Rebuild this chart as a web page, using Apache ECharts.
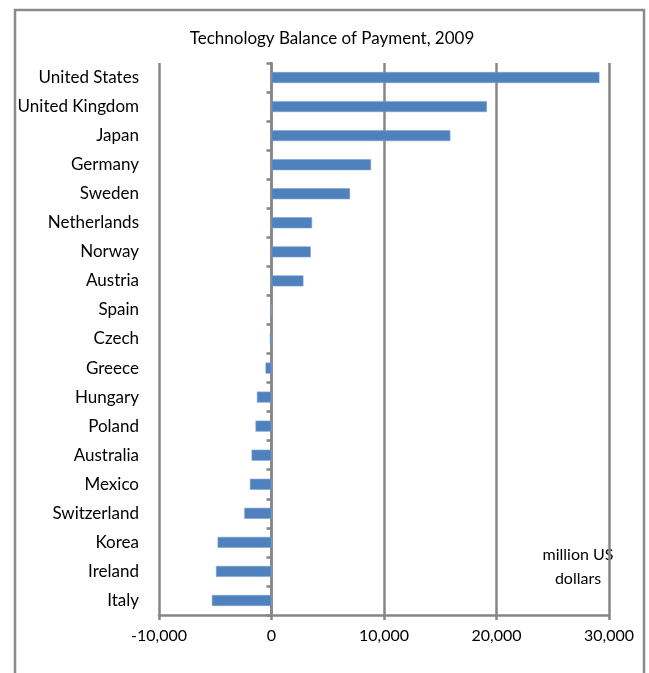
<!DOCTYPE html>
<html>
<head>
<meta charset="utf-8">
<script src="https://cdn.jsdelivr.net/npm/echarts@6/dist/echarts.min.js"></script>
<style>
  html, body { margin: 0; padding: 0; background: #fff; }
  #chart { width: 649px; height: 673px; }
</style>
</head>
<body>
<div id="chart"></div>
<script>
// Technology balance of payment by country, 2009 (million US dollars)
const countries = [
  'United States', 'United Kingdom', 'Japan', 'Germany', 'Sweden',
  'Netherlands', 'Norway', 'Austria', 'Spain', 'Czech', 'Greece',
  'Hungary', 'Poland', 'Australia', 'Mexico', 'Switzerland', 'Korea',
  'Ireland', 'Italy'
];
const balance = [
  29150, 19150, 15900, 8850, 6980,
  3610, 3490, 2840, 0, -150, -530,
  -1300, -1420, -1770, -1920, -2420, -4790,
  -4940, -5300
];
const xTicks = { min: -10000, max: 30000, interval: 10000 };

const FONT = 'Lato, "Open Sans", sans-serif';
const GRID = { left: 159, right: 40, top: 63, bottom: 58 };
const plotWidth = 649 - GRID.left - GRID.right;
// shift the tick-bearing category axis onto the zero line of the value axis
const zeroOffset = -plotWidth * (0 - xTicks.min) / (xTicks.max - xTicks.min);
const AXIS_GRAY = '#868686';

const chart = echarts.init(document.getElementById('chart'), null, { renderer: 'canvas' });

chart.setOption({
  animation: false,
  backgroundColor: '#fff',
  title: {
    text: 'Technology Balance of Payment, 2009',
    left: 327, top: 25, textAlign: 'center',
    textStyle: { fontFamily: FONT, fontSize: 17, fontWeight: 'normal', color: '#000' }
  },
  grid: GRID,
  xAxis: {
    type: 'value',
    min: xTicks.min, max: xTicks.max, interval: xTicks.interval,
    axisLine: { show: true, onZero: false, lineStyle: { color: AXIS_GRAY, width: 2.5 } },
    axisTick: { show: true, length: 5, lineStyle: { color: AXIS_GRAY, width: 2.5 } },
    axisLabel: {
      fontFamily: FONT, fontSize: 16, color: '#000', margin: 13,
      formatter: v => v.toLocaleString('en-US')
    },
    splitLine: { show: true, lineStyle: { color: AXIS_GRAY, width: 2.5 } }
  },
  yAxis: [{
    type: 'category', data: countries, inverse: true, position: 'left',
    axisLine: { show: false }, axisTick: { show: false },
    axisLabel: { fontFamily: FONT, fontSize: 17, color: '#000', margin: 20 }
  }, {
    type: 'category', data: countries, inverse: true, position: 'left',
    offset: zeroOffset,
    axisLine: { show: true, onZero: false, lineStyle: { color: AXIS_GRAY, width: 2.5 } },
    axisTick: { show: true, length: 5, lineStyle: { color: AXIS_GRAY, width: 2.5 } },
    axisLabel: { show: false }
  }],
  series: [{
    type: 'bar', data: balance, yAxisIndex: 0, barWidth: 11,
    itemStyle: { color: '#4F81BD', borderColor: '#7ea3d3', borderWidth: 0.6 }
  }],
  graphic: [{
    // outer frame
    type: 'rect',
    shape: { x: 15, y: 10, width: 629, height: 700 },
    style: { fill: 'none', stroke: '#8a8a8a', lineWidth: 2.5 },
    silent: true
  }, {
    // unit note in the lower right of the plot
    type: 'text', x: 578, y: 543,
    style: {
      text: 'million US\ndollars', fontFamily: FONT, fontSize: 16,
      fill: '#000', align: 'center', lineHeight: 24
    },
    silent: true
  }]
});
</script>
</body>
</html>
